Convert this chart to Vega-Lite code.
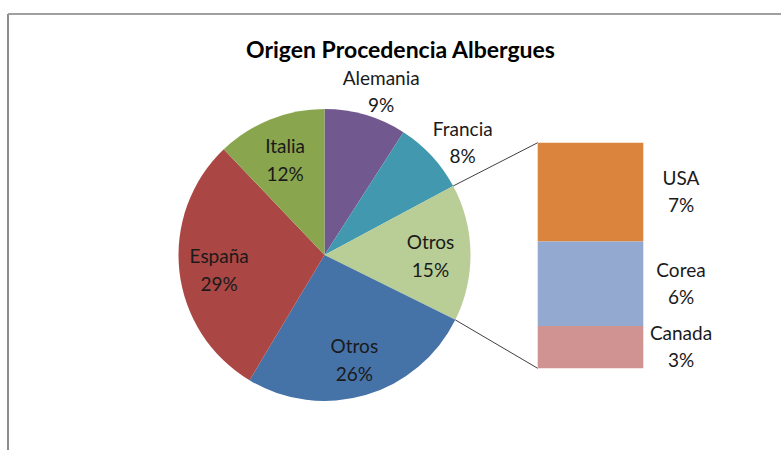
{
  "$schema": "https://vega.github.io/schema/vega-lite/v6.json",
  "width": 773,
  "height": 436,
  "autosize": {"type": "none"},
  "padding": {"left": 8, "top": 14, "right": 0, "bottom": 0},
  "background": "white",
  "config": {"view": {"stroke": null}},
  "title": {
    "text": "Origen Procedencia Albergues",
    "font": "Lato",
    "fontSize": 23,
    "fontWeight": "bold",
    "color": "#000000",
    "anchor": "middle",
    "frame": "group",
    "orient": "top",
    "offset": -68,
    "baseline": "alphabetic",
    "dx": 6
  },
  "datasets": {
    "pie": [
      {"pais": "Alemania", "id": "Alemania", "pct": 9, "orden": 1},
      {"pais": "Francia", "id": "Francia", "pct": 8, "orden": 2},
      {"pais": "Otros", "id": "Otros (desglose)", "pct": 15, "orden": 3},
      {"pais": "Otros", "id": "Otros (resto)", "pct": 26, "orden": 4},
      {"pais": "España", "id": "España", "pct": 29, "orden": 5},
      {"pais": "Italia", "id": "Italia", "pct": 12, "orden": 6}
    ],
    "bar": [
      {"pais": "USA", "id": "USA", "pct": 7, "orden": 1},
      {"pais": "Corea", "id": "Corea", "pct": 6, "orden": 2},
      {"pais": "Canada", "id": "Canada", "pct": 3, "orden": 3}
    ]
  },
  "layer": [
    {
      "data": {"values": [{}]},
      "mark": {"type": "rule", "color": "#8c8c8c", "strokeWidth": 2},
      "encoding": {
        "x": {"datum": 0, "type": "quantitative", "scale": {"domain": [0, 773], "nice": false, "zero": false}, "axis": null},
        "y": {"datum": -5.794, "type": "quantitative", "scale": {"domain": [-5.794, 25.128], "nice": false, "zero": false}, "axis": null},
        "y2": {"datum": 25.128}
      }
    },
    {
      "data": {"values": [{}]},
      "mark": {"type": "rule", "color": "#a0a0a0", "strokeWidth": 2},
      "encoding": {
        "x": {"datum": 0, "type": "quantitative", "scale": {"domain": [0, 773], "nice": false, "zero": false}, "axis": null},
        "x2": {"datum": 773},
        "y": {"datum": 25.128, "type": "quantitative", "scale": {"domain": [-5.794, 25.128], "nice": false, "zero": false}, "axis": null}
      }
    },
    {
      "data": {"name": "pie"},
      "transform": [
        {"stack": "pct", "groupby": [], "sort": [{"field": "orden", "order": "ascending"}], "as": ["t0", "t1"]}
      ],
      "mark": {"type": "arc", "outerRadius": 146},
      "encoding": {
        "x": {"datum": 316.5, "type": "quantitative", "stack": null, "scale": {"domain": [0, 773], "nice": false, "zero": false}, "axis": null},
        "y": {"datum": 8.036, "type": "quantitative", "stack": null, "scale": {"domain": [-5.794, 25.128], "nice": false, "zero": false}, "axis": null},
        "theta": {"field": "t0", "type": "quantitative", "scale": {"domain": [0, 99], "nice": false, "zero": true}},
        "theta2": {"field": "t1"},
        "color": {
          "field": "id",
          "type": "nominal",
          "legend": null,
          "scale": {
            "domain": ["Alemania", "Francia", "Otros (desglose)", "Otros (resto)", "España", "Italia", "USA", "Corea", "Canada"],
            "range": ["#71588F", "#4198AF", "#B9CD96", "#4572A7", "#AA4643", "#89A54E", "#DB843D", "#93A9CF", "#D19392"]
          }
        }
      }
    },
    {
      "data": {"name": "pie"},
      "transform": [
        {"stack": "pct", "groupby": [], "sort": [{"field": "orden", "order": "ascending"}], "as": ["t0", "t1"]},
        {"calculate": "(datum.t0 + datum.t1) / 2", "as": "mid"},
        {"calculate": "[datum.pais, datum.pct + '%']", "as": "label"},
        {"filter": "datum.id !== 'Alemania' && datum.id !== 'Francia'"}
      ],
      "mark": {"type": "text", "font": "Lato", "fontSize": 19, "lineHeight": 28, "align": "center", "baseline": "middle", "color": "#1a1a1a", "radius": 106, "dy": -10},
      "encoding": {
        "x": {"datum": 316.5, "type": "quantitative", "scale": {"domain": [0, 773], "nice": false, "zero": false}, "axis": null},
        "y": {"datum": 8.036, "type": "quantitative", "scale": {"domain": [-5.794, 25.128], "nice": false, "zero": false}, "axis": null},
        "theta": {"field": "mid", "type": "quantitative", "scale": {"domain": [0, 99], "nice": false, "zero": true}},
        "text": {"field": "label"}
      }
    },
    {
      "data": {"name": "pie"},
      "transform": [
        {"stack": "pct", "groupby": [], "sort": [{"field": "orden", "order": "ascending"}], "as": ["t0", "t1"]},
        {"calculate": "(datum.t0 + datum.t1) / 2", "as": "mid"},
        {"calculate": "[datum.pais, datum.pct + '%']", "as": "label"},
        {"filter": "datum.id === 'Alemania' || datum.id === 'Francia'"}
      ],
      "mark": {"type": "text", "font": "Lato", "fontSize": 19, "lineHeight": 27, "align": "center", "baseline": "middle", "color": "#1a1a1a", "radius": 180, "dx": 6, "dy": -3},
      "encoding": {
        "x": {"datum": 316.5, "type": "quantitative", "scale": {"domain": [0, 773], "nice": false, "zero": false}, "axis": null},
        "y": {"datum": 8.036, "type": "quantitative", "scale": {"domain": [-5.794, 25.128], "nice": false, "zero": false}, "axis": null},
        "theta": {"field": "mid", "type": "quantitative", "scale": {"domain": [0, 99], "nice": false, "zero": true}},
        "text": {"field": "label"}
      }
    },
    {
      "data": {"values": [{}]},
      "mark": {"type": "rule", "color": "#404040", "strokeWidth": 1},
      "encoding": {
        "x": {"datum": 445.2, "type": "quantitative", "scale": {"domain": [0, 773], "nice": false, "zero": false}, "axis": null},
        "y": {"datum": 12.93, "type": "quantitative", "scale": {"domain": [-5.794, 25.128], "nice": false, "zero": false}, "axis": null},
        "x2": {"datum": 529.7},
        "y2": {"datum": 16}
      }
    },
    {
      "data": {"values": [{}]},
      "mark": {"type": "rule", "color": "#404040", "strokeWidth": 1},
      "encoding": {
        "x": {"datum": 447.3, "type": "quantitative", "scale": {"domain": [0, 773], "nice": false, "zero": false}, "axis": null},
        "y": {"datum": 3.433, "type": "quantitative", "scale": {"domain": [-5.794, 25.128], "nice": false, "zero": false}, "axis": null},
        "x2": {"datum": 529.7},
        "y2": {"datum": 0}
      }
    },
    {
      "data": {"name": "bar"},
      "transform": [
        {"stack": "pct", "groupby": [], "sort": [{"field": "orden", "order": "descending"}], "as": ["b0", "b1"]}
      ],
      "mark": {"type": "bar"},
      "encoding": {
        "x": {"datum": 529.7, "type": "quantitative", "scale": {"domain": [0, 773], "nice": false, "zero": false}, "axis": null},
        "x2": {"datum": 635.3},
        "y": {"field": "b0", "type": "quantitative", "scale": {"domain": [-5.794, 25.128], "nice": false, "zero": false}, "axis": null},
        "y2": {"field": "b1"},
        "color": {
          "field": "id",
          "type": "nominal",
          "legend": null,
          "scale": {
            "domain": ["Alemania", "Francia", "Otros (desglose)", "Otros (resto)", "España", "Italia", "USA", "Corea", "Canada"],
            "range": ["#71588F", "#4198AF", "#B9CD96", "#4572A7", "#AA4643", "#89A54E", "#DB843D", "#93A9CF", "#D19392"]
          }
        }
      }
    },
    {
      "data": {"name": "bar"},
      "transform": [
        {"stack": "pct", "groupby": [], "sort": [{"field": "orden", "order": "descending"}], "as": ["b0", "b1"]},
        {"calculate": "(datum.b0 + datum.b1) / 2", "as": "mid"},
        {"calculate": "[datum.pais, datum.pct + '%']", "as": "label"}
      ],
      "mark": {"type": "text", "font": "Lato", "fontSize": 19, "lineHeight": 27, "align": "center", "baseline": "middle", "color": "#1a1a1a", "dy": -13},
      "encoding": {
        "x": {"datum": 673, "type": "quantitative", "scale": {"domain": [0, 773], "nice": false, "zero": false}, "axis": null},
        "y": {"field": "mid", "type": "quantitative", "scale": {"domain": [-5.794, 25.128], "nice": false, "zero": false}, "axis": null},
        "text": {"field": "label"}
      }
    }
  ]
}
